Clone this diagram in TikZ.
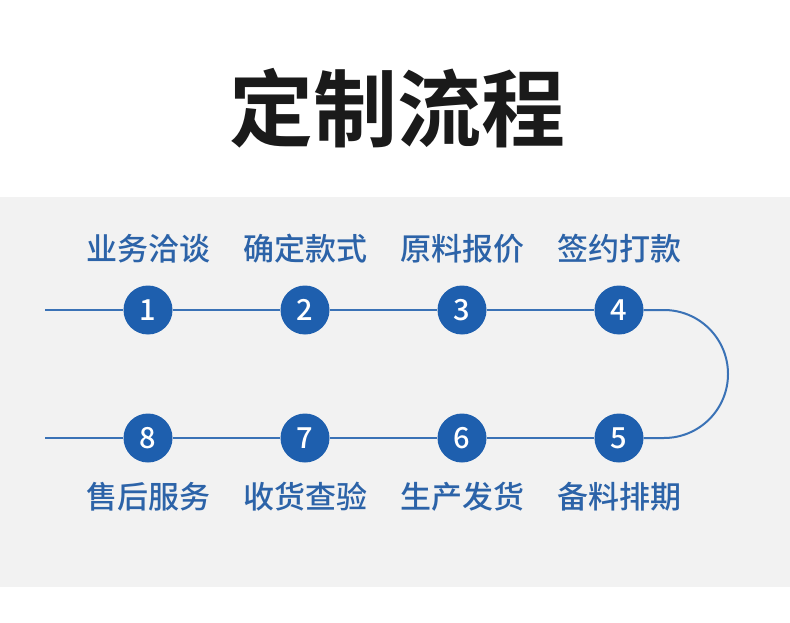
\documentclass[tikz,border=0pt]{standalone}
\usepackage{fontspec}
\newfontfamily\cjk{Noto Sans CJK SC Medium}
\newfontfamily\cjkb{Noto Sans CJK SC Bold}
\definecolor{panel}{HTML}{F2F2F2}
\definecolor{stepblue}{HTML}{1E5FAE}
\definecolor{lineblue}{HTML}{3A72B6}
\definecolor{textblue}{HTML}{2C63A8}
\definecolor{titleblack}{HTML}{1A1A1A}
\tikzset{
  numcirc/.style={circle, fill=stepblue, minimum size=49pt, inner sep=0pt, text=white, font=\cjk\fontsize{29}{29}\selectfont},
  steplabel/.style={text=textblue, font=\cjk\fontsize{31}{31}\selectfont, inner sep=0pt},
  flow/.style={draw=lineblue, line width=2pt},
}
\begin{document}
\begin{tikzpicture}[x=1pt,y=-1pt]
\useasboundingbox (0,0) rectangle (790,623);
\fill[white] (0,0) rectangle (790,623);
\fill[panel] (0,197) rectangle (790,587);
\node[text=titleblack, font=\cjkb\fontsize{84}{84}\selectfont, inner sep=0pt] (title) at (397,108) {定制流程};
% circles
\node[numcirc] (c1) at (148,310) {1};
\node[numcirc] (c2) at (305,310) {2};
\node[numcirc] (c3) at (462,310) {3};
\node[numcirc] (c4) at (619,310) {4};
\node[numcirc] (c5) at (619,438) {5};
\node[numcirc] (c6) at (462,438) {6};
\node[numcirc] (c7) at (305,438) {7};
\node[numcirc] (c8) at (148,438) {8};
\coordinate (s) at (45,310);
\coordinate (e) at (45,438);
\coordinate (a1) at (664,310);
% connectors
\draw[flow] (s) -- (c1);
\draw[flow] (c1) -- (c2);
\draw[flow] (c2) -- (c3);
\draw[flow] (c3) -- (c4);
\draw[flow] (c4) -- (a1) arc[start angle=90, end angle=-90, radius=64pt] -- (c5);
\draw[flow] (c5) -- (c6);
\draw[flow] (c6) -- (c7);
\draw[flow] (c7) -- (c8);
\draw[flow] (c8) -- (e);
% labels
\node[steplabel] (l1) at (148,249) {业务洽谈};
\node[steplabel] (l2) at (305,249) {确定款式};
\node[steplabel] (l3) at (462,249) {原料报价};
\node[steplabel] (l4) at (619,249) {签约打款};
\node[steplabel] (l5) at (619,497) {备料排期};
\node[steplabel] (l6) at (462,497) {生产发货};
\node[steplabel] (l7) at (305,497) {收货查验};
\node[steplabel] (l8) at (148,497) {售后服务};
\end{tikzpicture}
\end{document}
